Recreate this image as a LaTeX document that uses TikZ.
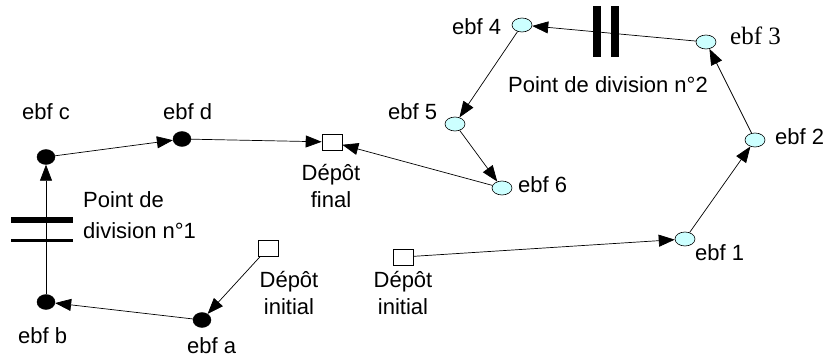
\documentclass[tikz,border=0pt]{standalone}
\usepackage{fontspec}
\setmainfont{Liberation Sans}
\newfontfamily\serifx{Liberation Serif}
\usetikzlibrary{arrows.meta,shapes.geometric}
\definecolor{lcyan}{HTML}{CCFFFF}
\begin{document}
\begin{tikzpicture}[x=1pt,y=-1pt,
  blk/.style={draw, fill=black, ellipse, minimum width=18pt, minimum height=15pt, inner sep=0pt},
  cyn/.style={draw, fill=lcyan, ellipse, minimum width=20pt, minimum height=14pt, inner sep=0pt, line width=0.6pt},
  dep/.style={draw, fill=white, minimum width=20pt, minimum height=16pt, inner sep=0pt, line width=0.6pt},
  lbl/.style={font=\fontsize{22}{26}\selectfont, inner sep=0pt, anchor=base west},
  mlbl/.style={font=\fontsize{22}{27}\selectfont, inner sep=0pt, align=center, anchor=north},
  arr/.style={-{Triangle[length=16pt,width=12pt]}, line width=0.7pt},
  bar/.style={fill=black, inner sep=0pt}
]
\useasboundingbox (0,0) rectangle (830,358);

% nodes
\node[blk] (a) at (202,320) {};
\node[blk] (b) at (46,302) {};
\node[blk] (c) at (46,157) {};
\node[blk] (d) at (182,139) {};
\node[dep] (iL) at (268,248) {};
\node[dep] (fin) at (332,142) {};
\node[dep] (iR) at (403,257) {};
\node[cyn] (n1) at (685,239) {};
\node[cyn] (n2) at (755,140) {};
\node[cyn] (n3) at (706,42) {};
\node[cyn] (n4) at (522,25) {};
\node[cyn] (n5) at (455,124) {};
\node[cyn] (n6) at (502,188) {};

% division bars
\node[bar, minimum width=62pt, minimum height=6pt] (d1a) at (42,220) {};
\node[bar, minimum width=62pt, minimum height=3pt] (d1b) at (42,241) {};
\node[bar, minimum width=8pt, minimum height=51pt] (d2a) at (597,32) {};
\node[bar, minimum width=8pt, minimum height=51pt] (d2b) at (615,32) {};

% connectors
\draw[arr] (a) -- (b);
\draw[arr] (iL) -- (a);
\draw[arr] (b) -- (c);
\draw[arr] (c) -- (d);
\draw[arr] (d) -- (fin);
\draw[arr] (n6) -- (fin);
\draw[arr] (n5) -- (n6);
\draw[arr] (n4) -- (n5);
\draw[arr] (n3) -- (n4);
\draw[arr] (n2) -- (n3);
\draw[arr] (n1) -- (n2);
\draw[arr] (iR) -- (n1);

% labels
\node[lbl] (la) at (187,353) {ebf a};
\node[lbl] (lb) at (18,343) {ebf b};
\node[lbl] (lc) at (22,120) {ebf c};
\node[lbl] (ld) at (163,120) {ebf d};
\node[lbl] (l1) at (695,260) {ebf 1};
\node[lbl] (l2) at (775,145) {ebf 2};
\node[lbl, font=\serifx\fontsize{25}{28}\selectfont] (l3) at (730,45) {ebf 3};
\node[lbl] (l4) at (452,35) {ebf 4};
\node[lbl] (l5) at (388,120) {ebf 5};
\node[lbl] (l6) at (518,193) {ebf 6};
\node[lbl] (p2) at (508,93) {Point de division n°2};
\node[inner sep=0pt, align=left, anchor=north west, font=\fontsize{22}{31}\selectfont] (p1) at (83,191) {Point de\\division n°1};
\node[mlbl] (tiL) at (289,271) {Dépôt\\initial};
\node[mlbl] (tiR) at (403,271) {Dépôt\\initial};
\node[mlbl] (tfin) at (331,164) {Dépôt\\final};
\end{tikzpicture}
\end{document}
